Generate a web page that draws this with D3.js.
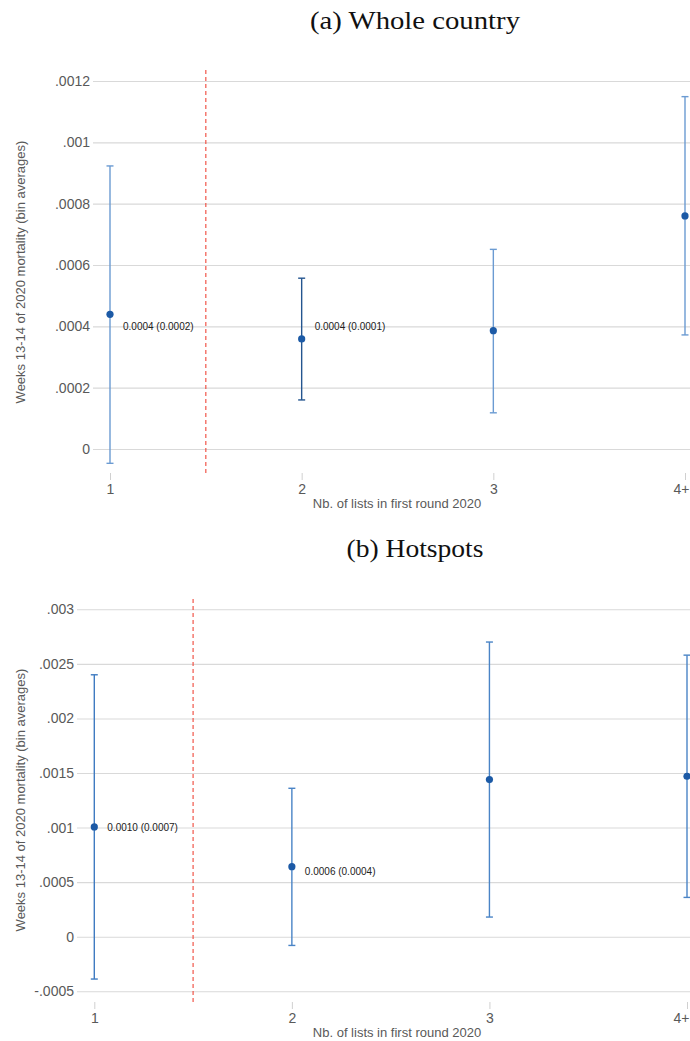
<!DOCTYPE html>
<html>
<head>
<meta charset="utf-8">
<script src="https://cdn.jsdelivr.net/npm/d3@7"></script>
<style>
  html, body { margin: 0; padding: 0; background: #fff; }
  svg { display: block; }
</style>
</head>
<body>
<svg id="chart" width="690" height="1041"></svg>
<script>
// ---- data ----
const categories = ["1", "2", "3", "4+"];
const xTitle = "Nb. of lists in first round 2020";
const yTitle = "Weeks 13-14 of 2020 mortality (bin averages)";

const titleA = "(a) Whole country";
const meanA = [0.000439, 0.000359, 0.000386, 0.00076];
const upperA = [0.000923, 0.000557, 0.000651, 0.001149];
const lowerA = [-0.0000467, 0.00016, 0.000118, 0.000372];
const labelA = ["0.0004 (0.0002)", "0.0004 (0.0001)", null, null];
const labelPosA = [0.0004, 0.0004, null, null];
const yTicksA = [0, 0.0002, 0.0004, 0.0006, 0.0008, 0.001, 0.0012];
const yTickLabelsA = ["0", ".0002", ".0004", ".0006", ".0008", ".001", ".0012"];

const titleB = "(b) Hotspots";
const meanB = [0.001006, 0.000642, 0.00144, 0.00147];
const upperB = [0.0024, 0.00136, 0.0027, 0.00258];
const lowerB = [-0.000388, -0.00008, 0.00018, 0.00036];
const labelB = ["0.0010 (0.0007)", "0.0006 (0.0004)", null, null];
const labelPosB = [0.001, 0.0006, null, null];
const yTicksB = [-0.0005, 0, 0.0005, 0.001, 0.0015, 0.002, 0.0025, 0.003];
const yTickLabelsB = ["-.0005", "0", ".0005", ".001", ".0015", ".002", ".0025", ".003"];

const cutoff = 1.5;

// ---- styles ----
const barColorsA = ["#6b9bd2", "#24558f", "#6b9bd2", "#6b9bd2"];
const barColorsB = ["#3f7bc1", "#4a84c6", "#4a84c6", "#4a84c6"];

const svg = d3.select("#chart");

function panel(cfg) {
  const g = svg.append("g");
  const x = d3.scaleLinear().domain([1, 4]).range(cfg.xRange);
  const y = d3.scaleLinear().domain(cfg.yDomain).range(cfg.yRange);

  // title
  g.append("text")
    .attr("x", 415).attr("y", cfg.titleY)
    .attr("text-anchor", "middle")
    .attr("font-family", "Liberation Serif, serif")
    .attr("font-size", 25)
    .attr("textLength", cfg.titleLen)
    .attr("lengthAdjust", "spacingAndGlyphs")
    .attr("fill", "#111")
    .text(cfg.title);

  // gridlines + y labels
  const yAxis = d3.axisLeft(y).tickValues(cfg.yTicks)
    .tickFormat((d, i) => cfg.yTickLabels[i])
    .tickSize(-(690 - cfg.gridX0)).tickPadding(3);
  const ya = g.append("g").attr("transform", `translate(${cfg.gridX0},0)`).call(yAxis);
  ya.select(".domain").remove();
  ya.selectAll(".tick line").attr("stroke", "#d9d9d9").attr("stroke-width", 1.1);
  ya.selectAll(".tick text")
    .attr("font-family", "Liberation Sans, Arial, sans-serif")
    .attr("font-size", 14).attr("fill", "#595959");

  // x axis
  const xAxis = d3.axisBottom(x).tickValues([1, 2, 3, 4])
    .tickFormat((d, i) => categories[i]).tickSize(7).tickPadding(4);
  const xa = g.append("g").attr("transform", `translate(0,${cfg.xAxisY})`).call(xAxis);
  xa.select(".domain").remove();
  xa.selectAll(".tick line").attr("stroke", "#d0d0d0");
  xa.selectAll(".tick text")
    .attr("font-family", "Liberation Sans, Arial, sans-serif")
    .attr("font-size", 14).attr("fill", "#595959");
  // keep the last label inside the window
  xa.selectAll(".tick text").filter(d => d === 4)
    .attr("text-anchor", "end").attr("dx", 690 - x(4) - 1);

  // x title
  g.append("text")
    .attr("x", 397).attr("y", cfg.xTitleY)
    .attr("text-anchor", "middle")
    .attr("font-family", "Liberation Sans, Arial, sans-serif")
    .attr("font-size", 13).attr("fill", "#595959")
    .text(xTitle);

  // y title
  g.append("text")
    .attr("transform", `translate(25,${cfg.yTitleMid}) rotate(-90)`)
    .attr("text-anchor", "middle")
    .attr("font-family", "Liberation Sans, Arial, sans-serif")
    .attr("font-size", 13).attr("fill", "#595959")
    .text(yTitle);

  // cutoff line
  g.append("line")
    .attr("x1", x(cutoff)).attr("x2", x(cutoff))
    .attr("y1", cfg.cutY[0]).attr("y2", cfg.cutY[1])
    .attr("stroke", "#f0473a").attr("stroke-width", 1.1)
    .attr("stroke-dasharray", "4,3");

  // error bars
  const idx = d3.range(categories.length);
  const bars = g.append("g");
  idx.forEach(i => {
    const cx = x(i + 1);
    const c = cfg.barColors[i];
    bars.append("line").attr("x1", cx).attr("x2", cx)
      .attr("y1", y(cfg.lower[i])).attr("y2", y(cfg.upper[i]))
      .attr("stroke", c).attr("stroke-width", 1.4);
    [cfg.lower[i], cfg.upper[i]].forEach(v => {
      bars.append("line").attr("x1", cx - 3.5).attr("x2", cx + 3.5)
        .attr("y1", y(v)).attr("y2", y(v))
        .attr("stroke", c).attr("stroke-width", 1.4);
    });
  });

  // points
  g.append("g").selectAll("circle").data(idx).join("circle")
    .attr("cx", i => x(i + 1)).attr("cy", i => y(cfg.mean[i]))
    .attr("r", 3.6).attr("fill", "#1c5aa6");

  // annotations
  g.append("g").selectAll("text").data(idx.filter(i => cfg.labels[i])).join("text")
    .attr("x", i => x(i + 1) + 13).attr("y", i => y(cfg.labelPos[i]))
    .attr("dy", "0.35em")
    .attr("font-family", "Liberation Sans, Arial, sans-serif")
    .attr("font-size", 10).attr("fill", "#222")
    .text(i => cfg.labels[i]);
}

panel({
  title: titleA, titleY: 29, titleLen: 210,
  xRange: [110, 685],
  yDomain: [0, 0.0012], yRange: [449, 81],
  yTicks: yTicksA, yTickLabels: yTickLabelsA,
  gridX0: 93, xAxisY: 473, xTitleY: 508, yTitleMid: 272,
  cutY: [70, 474],
  mean: meanA, upper: upperA, lower: lowerA,
  labels: labelA, labelPos: labelPosA, barColors: barColorsA
});

panel({
  title: titleB, titleY: 557, titleLen: 137,
  xRange: [94.3, 687],
  yDomain: [0, 0.003], yRange: [936.7, 609.3],
  yTicks: yTicksB, yTickLabels: yTickLabelsB,
  gridX0: 77, xAxisY: 1002, xTitleY: 1037, yTitleMid: 800,
  cutY: [599, 1002],
  mean: meanB, upper: upperB, lower: lowerB,
  labels: labelB, labelPos: labelPosB, barColors: barColorsB
});
</script>
</body>
</html>
